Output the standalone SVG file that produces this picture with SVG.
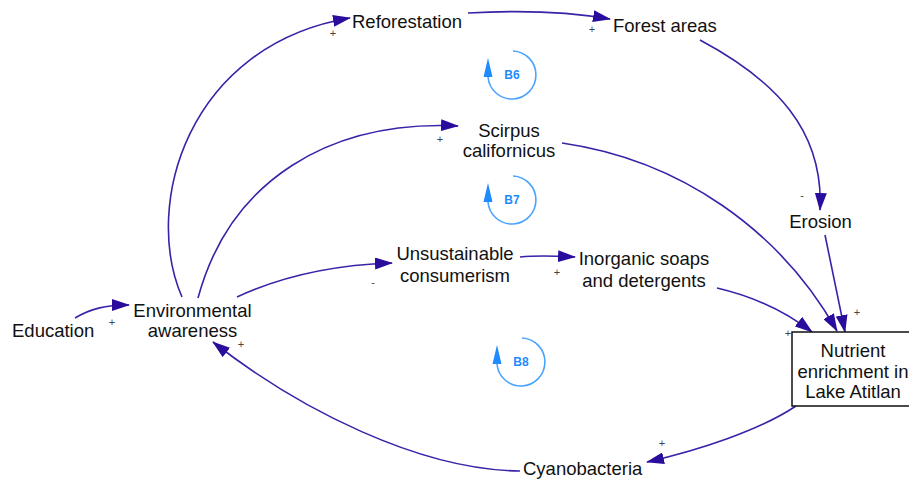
<svg xmlns="http://www.w3.org/2000/svg" width="909" height="483" viewBox="0 0 909 483">
<defs>
<style>
.lbl{font-family:"Liberation Sans",Arial,sans-serif;font-size:18.5px;fill:#111;}
.c{text-anchor:middle;}
.pol{font-family:"Liberation Sans",Arial,sans-serif;font-size:11px;fill:#444;text-anchor:middle;}
.edge{fill:none;stroke:#3b22a8;stroke-width:1.6;marker-end:url(#ah);}
.loop{fill:none;stroke:#4aa3ff;stroke-width:1.6;}
.loophead{fill:#1f8bff;}
.looptxt{font-family:"Liberation Sans",Arial,sans-serif;font-size:12px;font-weight:bold;fill:#1f8bff;text-anchor:middle;}
.box{fill:#fff;stroke:#111;stroke-width:1.5;}
</style>
<marker id="ah" viewBox="0 0 18 12" refX="17" refY="6" markerWidth="18" markerHeight="12" markerUnits="userSpaceOnUse" orient="auto">
<path d="M0,0 L18,6 L0,12 z" fill="#2a0d9c"/>
</marker>
</defs>
<rect width="909" height="483" fill="#fff"/>

<g id="connectors">
<path class="edge" d="M75,318 C90,309 105,305 129,305"/>
<path class="edge" d="M182,297 C142,205 188,45 350,18"/>
<path class="edge" d="M198,298 C230,180 330,120 458,126"/>
<path class="edge" d="M237,297 C280,277 330,265 392,263"/>
<path class="edge" d="M468,13 C520,10 570,12 610,19"/>
<path class="edge" d="M700,40 C775,80 824,130 820,210"/>
<path class="edge" d="M825,235 L845,332"/>
<path class="edge" d="M562,143 C680,160 780,230 837,331"/>
<path class="edge" d="M717,288 C760,298 790,315 812,332"/>
<path class="edge" d="M520,257 C540,255 555,256 575,257"/>
<path class="edge" d="M796,406 C760,430 700,450 647,462"/>
<path class="edge" d="M520,471 C420,470 300,410 213,342"/>
<text class="pol" x="112" y="326">+</text>
<text class="pol" x="333" y="37">+</text>
<text class="pol" x="592" y="33">+</text>
<text class="pol" x="802" y="199">-</text>
<text class="pol" x="857" y="316">+</text>
<text class="pol" x="788" y="337">+</text>
<text class="pol" x="440" y="143">+</text>
<text class="pol" x="373" y="286">-</text>
<text class="pol" x="557" y="276">+</text>
<text class="pol" x="662" y="447">+</text>
<text class="pol" x="241" y="348">+</text>
</g>

<g id="loop-B6">
<path class="loop" d="M513,51 A24,24 0 1 1 488,77"/>
<path class="loophead" d="M483.5,77 L492.5,77 L488,58 z"/>
<text class="looptxt" x="512" y="79">B6</text>
</g>
<g id="loop-B7">
<path class="loop" d="M513,176 A24,24 0 1 1 488,202"/>
<path class="loophead" d="M483.5,202 L492.5,202 L488,183 z"/>
<text class="looptxt" x="512" y="204">B7</text>
</g>
<g id="loop-B8">
<path class="loop" d="M522,338 A24,24 0 1 1 497,364"/>
<path class="loophead" d="M492.5,364 L501.5,364 L497,345 z"/>
<text class="looptxt" x="521" y="366">B8</text>
</g>

<g id="node-reforestation"><text class="lbl" x="352" y="28">Reforestation</text></g>
<g id="node-forest"><text class="lbl" x="613" y="32">Forest areas</text></g>
<g id="node-scirpus"><text class="lbl c" x="509" y="137">Scirpus</text><text class="lbl c" x="509" y="157">californicus</text></g>
<g id="node-erosion"><text class="lbl c" x="820.5" y="228">Erosion</text></g>
<g id="node-unsustainable"><text class="lbl c" x="455" y="260">Unsustainable</text><text class="lbl c" x="455" y="282">consumerism</text></g>
<g id="node-inorganic"><text class="lbl c" x="644" y="265">Inorganic soaps</text><text class="lbl c" x="644" y="287">and detergents</text></g>
<g id="node-education"><text class="lbl" x="12" y="337">Education</text></g>
<g id="node-awareness"><text class="lbl c" x="192.5" y="317">Environmental</text><text class="lbl c" x="192.5" y="337">awareness</text></g>
<g id="node-nutrient">
<rect class="box" x="792" y="332" width="128" height="74"/>
<text class="lbl c" x="853" y="357">Nutrient</text><text class="lbl c" x="853" y="378">enrichment in</text><text class="lbl c" x="853" y="398">Lake Atitlan</text>
</g>
<g id="node-cyano"><text class="lbl" x="523" y="475">Cyanobacteria</text></g>
</svg>
